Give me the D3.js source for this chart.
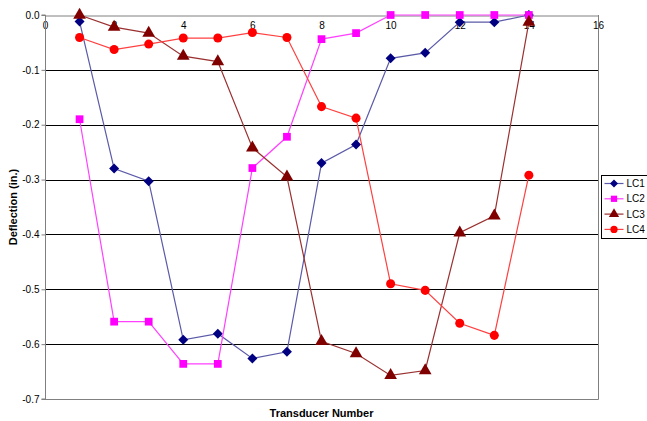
<!DOCTYPE html>
<html>
<head>
<meta charset="utf-8">
<script src="https://cdn.jsdelivr.net/npm/d3@7"></script>
<style>
  html, body { margin: 0; padding: 0; background: #fff; }
  svg { display: block; font-family: "Liberation Sans", Arial, sans-serif; }
</style>
</head>
<body>
<svg id="chart" width="647" height="421"></svg>
<script>
// Transducer positions along the beam
const transducers = [1, 2, 3, 4, 5, 6, 7, 8, 9, 10, 11, 12, 13, 14];

// Deflection (in.) measured for each load case
const lc1 = [-0.012, -0.280, -0.303, -0.592, -0.581, -0.626, -0.614, -0.270, -0.236, -0.079, -0.069, -0.013, -0.013, 0.0];
const lc2 = [-0.190, -0.559, -0.559, -0.636, -0.636, -0.279, -0.222, -0.044, -0.033, 0.0, 0.0, 0.0, 0.0, 0.0];
const lc3 = [0.0, -0.022, -0.033, -0.075, -0.085, -0.242, -0.295, -0.595, -0.617, -0.657, -0.648, -0.397, -0.366, -0.013];
const lc4 = [-0.041, -0.063, -0.053, -0.042, -0.042, -0.032, -0.041, -0.167, -0.188, -0.490, -0.502, -0.562, -0.584, -0.292];

const seriesNames = ["LC1", "LC2", "LC3", "LC4"];
const xTicks = [0, 2, 4, 6, 8, 10, 12, 14, 16];
const yTicks = [0, -0.1, -0.2, -0.3, -0.4, -0.5, -0.6, -0.7];

const series = [
  { name: seriesNames[0], values: lc1, color: "#000080", line: "#5a5aa8", shape: "diamond" },
  { name: seriesNames[1], values: lc2, color: "#ff00ff", line: "#ff40ff", shape: "square" },
  { name: seriesNames[2], values: lc3, color: "#800000", line: "#9a3030", shape: "triangle" },
  { name: seriesNames[3], values: lc4, color: "#ff0000", line: "#ff4040", shape: "circle" }
];

const svg = d3.select("#chart");
const plot = { left: 45, right: 598, top: 15, bottom: 399 };

const x = d3.scaleLinear().domain([0, 16]).range([plot.left, plot.right]);
const y = d3.scaleLinear().domain([0, -0.7]).range([plot.top, plot.bottom]);

// Horizontal gridlines
svg.append("g")
  .selectAll("line")
  .data(yTicks.filter(d => d !== 0 && d !== -0.7))
  .join("line")
  .attr("x1", plot.left).attr("x2", plot.right)
  .attr("y1", d => Math.round(y(d)) + 0.5).attr("y2", d => Math.round(y(d)) + 0.5)
  .attr("stroke", "#000").attr("stroke-width", 1);

// Plot frame (right and bottom)
svg.append("path")
  .attr("d", `M${plot.right + 0.5},${plot.top}V${plot.bottom + 0.5}H${plot.left}`)
  .attr("fill", "none").attr("stroke", "#808080");

// X axis along y = 0, labels hang inside the plot
const xAxis = d3.axisBottom(x).tickValues(xTicks).tickFormat(d3.format("d")).tickSize(0).tickPadding(6);
const gx = svg.append("g")
  .attr("transform", `translate(0,${Math.round(y(0)) + 0.5})`)
  .call(xAxis);
gx.select(".domain").attr("stroke", "#808080");
gx.selectAll("text").attr("font-size", 10).attr("fill", "#000")
  .attr("font-family", "Liberation Sans, Arial, sans-serif");

// Y axis
const yAxis = d3.axisLeft(y).tickValues(yTicks).tickFormat(d3.format(".1f")).tickSize(4).tickPadding(2);
const gy = svg.append("g")
  .attr("transform", `translate(${plot.left + 0.5},0)`)
  .call(yAxis);
gy.select(".domain").attr("stroke", "#808080").attr("d", `M-4,${plot.top}H0V${plot.bottom}H-4`);
gy.selectAll(".tick line").attr("stroke", "#808080");
gy.selectAll("text").attr("font-size", 10).attr("fill", "#000")
  .attr("font-family", "Liberation Sans, Arial, sans-serif")
  .text(d => d === 0 ? "0.0" : d3.format(".1f")(d).replace("−", "-"));

// Axis titles
svg.append("text")
  .attr("x", (plot.left + plot.right) / 2)
  .attr("y", 417)
  .attr("text-anchor", "middle")
  .attr("font-size", 11).attr("font-weight", "bold")
  .text("Transducer Number");

svg.append("text")
  .attr("transform", `translate(17,${(plot.top + plot.bottom) / 2}) rotate(-90)`)
  .attr("text-anchor", "middle")
  .attr("font-size", 11).attr("font-weight", "bold")
  .text("Deflection (in.)");

// Marker shapes; the diamond is a square turned 45 degrees
const wideDiamond = {
  draw(context, size) {
    const r = Math.sqrt(size / 2);
    context.moveTo(0, -r);
    context.lineTo(r, 0);
    context.lineTo(0, r);
    context.lineTo(-r, 0);
    context.closePath();
  }
};
const symbolTypes = {
  diamond: wideDiamond,
  square: d3.symbolSquare,
  triangle: d3.symbolTriangle,
  circle: d3.symbolCircle
};
const symbolSizes = { diamond: 50, square: 60, triangle: 70, circle: 64 };

const line = d3.line()
  .x((d, i) => x(transducers[i]))
  .y(d => y(d));

series.forEach(s => {
  const g = svg.append("g");
  g.append("path")
    .datum(s.values)
    .attr("d", line)
    .attr("fill", "none")
    .attr("stroke", s.line)
    .attr("stroke-width", 1.2);
  g.selectAll("path.marker")
    .data(s.values)
    .join("path")
    .attr("class", "marker")
    .attr("transform", (d, i) => `translate(${x(transducers[i])},${y(d)})`)
    .attr("d", d3.symbol().type(symbolTypes[s.shape]).size(symbolSizes[s.shape])())
    .attr("fill", s.color);
});

// Legend
const legend = svg.append("g").attr("transform", "translate(601.5,175.5)");
legend.append("rect")
  .attr("width", 50).attr("height", 63)
  .attr("fill", "#fff").attr("stroke", "#000");
series.forEach((s, i) => {
  const cy = 8 + i * 15.3;
  legend.append("line")
    .attr("x1", 3).attr("x2", 22).attr("y1", cy).attr("y2", cy)
    .attr("stroke", s.line).attr("stroke-width", 1.2);
  legend.append("path")
    .attr("transform", `translate(12.5,${cy})`)
    .attr("d", d3.symbol().type(symbolTypes[s.shape]).size(symbolSizes[s.shape] * 0.65)())
    .attr("fill", s.color);
  legend.append("text")
    .attr("x", 25).attr("y", cy + 3.5)
    .attr("font-size", 10)
    .text(s.name);
});
</script>
</body>
</html>
